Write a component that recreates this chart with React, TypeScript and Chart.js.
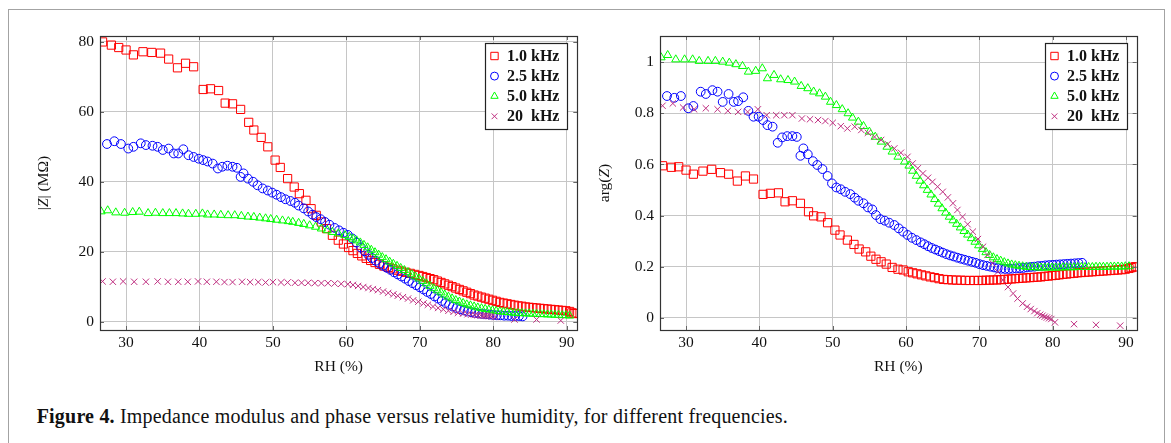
import React, { useEffect, useRef } from "react";
import { Chart, registerables } from "chart.js";

Chart.register(...registerables);

const FONT = '"Liberation Serif", "Times New Roman", Times, serif';

const X_TICKS = [30, 40, 50, 60, 70, 80, 90];
const X_TICK_LABELS = ["30", "40", "50", "60", "70", "80", "90"];
const Z_TICKS = [0, 20, 40, 60, 80];
const Z_TICK_LABELS = ["0", "20", "40", "60", "80"];
const ARG_TICKS = [0, 0.2, 0.4, 0.6, 0.8, 1];
const ARG_TICK_LABELS = ["0", "0.2", "0.4", "0.6", "0.8", "1"];
const SERIES_LABELS = ["1.0 kHz", "2.5 kHz", "5.0 kHz", "20  kHz"];

// ---- 1.0 kHz ----
const RH_1K = [26.8, 28.0, 29.0, 30.0, 31.0, 32.3, 33.5, 34.7, 35.8, 37.0, 38.1, 39.2, 40.5, 41.5, 42.6, 43.5, 44.5, 45.6, 46.7, 47.4, 48.4, 49.3, 50.3, 51.0, 52.0, 52.9, 53.6, 54.5, 55.2, 55.9, 56.6, 57.3, 58.1, 58.9, 59.6, 60.3,
  60.9, 61.5, 62.1, 62.7, 63.3, 63.9, 64.5, 65.1, 65.7, 66.3, 66.9, 67.5, 68.1, 68.7, 69.3, 69.9,
  70.4, 70.9, 71.4, 71.9, 72.4, 72.9, 73.4, 73.9, 74.4, 74.9, 75.4, 75.9, 76.4, 76.9, 77.4, 77.9, 78.4, 78.9, 79.4, 79.9,
  80.4, 80.9, 81.4, 81.9, 82.4, 82.9, 83.4, 83.9, 84.4, 84.9, 85.4, 85.9, 86.4, 86.9, 87.4, 87.9, 88.4, 88.9, 89.4, 89.9,
  90.4, 90.7, 91.0, 91.3];
const ZMOD_1K = [80.0, 79.1, 78.4, 77.7, 76.3, 77.2, 77.0, 76.8, 75.1, 72.6, 73.9, 72.9, 66.4, 66.6, 66.1, 62.5, 62.3, 60.7, 57.0, 54.8, 52.7, 50.0, 46.2, 44.1, 40.9, 38.5, 36.6, 34.7, 32.3, 30.4, 28.5, 26.6, 24.7, 23.3, 22.2, 21.2,
  20.3, 19.5, 18.8, 18.1, 17.5, 16.9, 16.4, 15.9, 15.5, 15.1, 14.7, 14.4, 14.1, 13.8, 13.5, 13.2,
  12.9, 12.6, 12.3, 12.0, 11.6, 11.2, 10.8, 10.4, 10.0, 9.6, 9.2, 8.8, 8.4, 8.0, 7.6, 7.3, 7.0, 6.7, 6.4, 6.1,
  5.8, 5.5, 5.3, 5.1, 4.9, 4.7, 4.5, 4.4, 4.2, 4.1, 4.0, 3.9, 3.8, 3.7, 3.6, 3.5, 3.4, 3.3, 3.2, 3.1,
  2.9, 2.5, 2.3, 2.4];
const ARG_1K = [0.595, 0.589, 0.591, 0.578, 0.562, 0.574, 0.581, 0.568, 0.562, 0.535, 0.555, 0.543, 0.483, 0.487, 0.489, 0.454, 0.458, 0.448, 0.415, 0.399, 0.395, 0.372, 0.343, 0.324, 0.304, 0.287, 0.269, 0.258, 0.241, 0.229, 0.219, 0.210, 0.197, 0.190, 0.187, 0.180,
  0.176, 0.172, 0.168, 0.164, 0.160, 0.157, 0.153, 0.150, 0.149, 0.148, 0.147, 0.147, 0.146, 0.146, 0.146, 0.146,
  0.146, 0.147, 0.147, 0.148, 0.148, 0.149, 0.150, 0.151, 0.152, 0.153, 0.154, 0.155, 0.156, 0.157, 0.158, 0.159, 0.160, 0.162, 0.163, 0.165,
  0.166, 0.168, 0.170, 0.171, 0.173, 0.174, 0.176, 0.177, 0.178, 0.179, 0.180, 0.181, 0.182, 0.183, 0.184, 0.185, 0.186, 0.187, 0.188, 0.190,
  0.193, 0.196, 0.198, 0.200];

// ---- 2.5 kHz ----
const RH_2K5 = [27.4, 28.4, 29.3, 30.3, 31.0, 32.0, 32.7, 33.6, 34.3, 35.0, 35.8, 36.5, 37.1, 37.8, 38.5, 39.2, 39.9, 40.5, 41.1, 41.8,
  42.5, 43.1, 43.8, 44.5, 45.1, 45.6, 46.0, 46.6, 47.3, 47.9, 48.6, 49.3, 49.9, 50.5, 51.1, 51.7, 52.4, 53.0, 53.5, 54.2,
  54.8, 55.4, 55.9, 56.5, 57.1, 57.7, 58.4, 59.0, 59.6, 60.2,
  60.8, 61.4, 62.0, 62.5, 63.0, 63.5, 64.0, 64.5, 65.0, 65.5, 66.0, 66.5, 67.0, 67.5, 68.0, 68.5, 69.0, 69.5, 70.0, 70.5, 71.0, 71.5,
  72.0, 72.5, 73.0, 73.5, 74.0, 74.5, 75.0, 75.5, 76.0, 76.5, 77.0, 77.5, 78.0, 78.5, 79.0, 79.5, 80.0, 80.5, 81.0, 81.5,
  82.0, 82.5, 83.0, 83.5, 84.0];
const ZMOD_2K5 = [50.8, 51.6, 50.8, 49.5, 50.0, 51.0, 50.5, 50.3, 50.0, 49.1, 49.5, 48.1, 48.1, 49.3, 47.6, 47.1, 46.6, 46.2, 45.8, 45.2,
  43.8, 44.3, 44.6, 44.3, 44.0, 41.4, 42.4, 40.9, 40.0, 39.0, 38.1, 37.5, 36.9, 36.3, 35.6, 35.0, 34.5, 34.0, 33.2, 32.4,
  31.5, 30.6, 29.9, 29.3, 28.5, 27.7, 26.8, 26.1, 25.4, 24.8,
  23.8, 22.6, 21.2, 20.1, 19.1, 18.2, 17.4, 16.6, 16.0, 15.4, 14.8, 14.1, 13.5, 12.9, 12.3, 11.6, 11.0, 10.4, 9.8, 9.2, 8.5, 7.9,
  7.2, 6.6, 5.9, 5.3, 4.8, 4.3, 3.9, 3.5, 3.2, 2.9, 2.7, 2.5, 2.3, 2.2, 2.1, 2.0, 1.9, 1.8, 1.8, 1.7,
  1.7, 1.6, 1.6, 1.6, 1.5];
const ARG_2K5 = [0.868, 0.861, 0.868, 0.820, 0.829, 0.885, 0.876, 0.891, 0.885, 0.845, 0.876, 0.845, 0.848, 0.863, 0.810, 0.787, 0.787, 0.774, 0.754, 0.748,
  0.685, 0.706, 0.711, 0.711, 0.708, 0.634, 0.663, 0.640, 0.613, 0.598, 0.582, 0.555, 0.526, 0.510, 0.503, 0.493, 0.484, 0.470, 0.458, 0.448,
  0.432, 0.424, 0.402, 0.386, 0.380, 0.372, 0.363, 0.350, 0.337, 0.324,
  0.313, 0.304, 0.295, 0.288, 0.280, 0.273, 0.267, 0.261, 0.255, 0.249, 0.244, 0.240, 0.235, 0.231, 0.227, 0.223, 0.219, 0.215, 0.210, 0.206, 0.203, 0.200,
  0.197, 0.194, 0.192, 0.191, 0.191, 0.192, 0.193, 0.194, 0.195, 0.197, 0.199, 0.200, 0.202, 0.203, 0.205, 0.206, 0.207, 0.208, 0.209, 0.210,
  0.211, 0.212, 0.213, 0.214, 0.215];

// ---- 5.0 kHz ----
const RH_5K = [26.6, 27.5, 28.6, 29.8, 30.9, 31.8, 33.0, 34.0, 35.0, 35.9, 36.8, 37.7, 38.5, 39.5, 40.4, 41.1, 42.0, 42.9, 43.9, 44.8,
  45.7, 46.6, 47.4, 48.2, 49.0, 49.7, 50.5, 51.3, 52.1, 52.7, 53.5, 54.2, 55.0, 55.8, 56.6, 57.4, 58.1, 58.9, 59.8,
  60.4, 60.9, 61.4, 61.9, 62.4, 62.9, 63.4, 63.9, 64.4, 64.9, 65.4, 65.9, 66.4, 66.9, 67.4, 67.9, 68.4, 68.9, 69.4, 69.9,
  70.4, 70.9, 71.4, 71.9, 72.4, 72.9, 73.4, 73.9, 74.4, 74.9, 75.4, 75.9, 76.4, 76.9, 77.4, 77.9, 78.4, 78.9, 79.4, 79.9,
  80.4, 80.9, 81.4, 81.9, 82.4, 82.9, 83.4, 83.9, 84.4, 84.9, 85.4, 85.9, 86.4, 86.9, 87.4, 87.9, 88.4, 88.9, 89.4, 89.9, 90.4];
const ZMOD_5K = [31.5, 31.8, 31.2, 31.1, 31.3, 31.4, 31.0, 31.1, 31.0, 31.0, 31.0, 30.9, 30.8, 30.8, 30.9, 30.6, 30.6, 30.5, 30.4, 30.4,
  30.2, 30.0, 29.9, 29.7, 29.5, 29.3, 29.1, 28.9, 28.7, 28.5, 28.2, 27.9, 27.5, 27.1, 26.6, 26.1, 25.6, 25.2, 24.7,
  24.2, 23.7, 23.2, 22.6, 21.9, 21.2, 20.5, 19.8, 19.1, 18.4, 17.8, 17.1, 16.5, 15.9, 15.3, 14.7, 14.1, 13.5, 12.9, 12.3,
  11.6, 10.9, 10.2, 9.5, 8.9, 8.3, 7.7, 7.1, 6.6, 6.1, 5.7, 5.3, 4.9, 4.6, 4.3, 4.0, 3.8, 3.6, 3.4, 3.2,
  3.0, 2.9, 2.8, 2.7, 2.6, 2.5, 2.4, 2.4, 2.3, 2.3, 2.2, 2.2, 2.1, 2.1, 2.0, 2.0, 1.9, 1.9, 1.8, 1.8, 1.7];
const ARG_5K = [1.019, 1.028, 1.011, 1.011, 1.011, 1.005, 1.005, 1.005, 1.002, 0.998, 0.992, 0.985, 0.963, 0.966, 0.976, 0.937, 0.950, 0.933, 0.930, 0.924,
  0.907, 0.898, 0.885, 0.878, 0.865, 0.845, 0.832, 0.816, 0.800, 0.783, 0.767, 0.750, 0.728, 0.708, 0.689, 0.669, 0.650, 0.630, 0.611,
  0.595, 0.575, 0.555, 0.536, 0.518, 0.500, 0.482, 0.464, 0.446, 0.428, 0.411, 0.395, 0.381, 0.367, 0.353, 0.339, 0.325, 0.311, 0.297, 0.283,
  0.269, 0.256, 0.245, 0.236, 0.229, 0.223, 0.217, 0.212, 0.208, 0.205, 0.203, 0.201, 0.199, 0.198, 0.197, 0.197, 0.196, 0.196, 0.196, 0.196,
  0.196, 0.196, 0.197, 0.197, 0.197, 0.197, 0.198, 0.198, 0.198, 0.198, 0.198, 0.199, 0.199, 0.199, 0.199, 0.200, 0.200, 0.200, 0.200, 0.201, 0.201];

// ---- 20 kHz ----
const RH_20K = [26.8, 28.2, 29.6, 31.1, 32.7, 34.3, 35.7, 37.1, 38.4, 39.8, 41.0, 42.3, 43.4, 44.5, 45.8, 46.9, 48.0, 49.0, 50.0, 51.1,
  52.0, 53.0, 53.9, 54.8, 55.7, 56.6, 57.5, 58.4, 59.3, 60.2,
  60.9, 61.6, 62.3, 63.0, 63.6, 64.3, 65.0, 65.7, 66.4, 67.0, 67.7, 68.4, 69.1, 69.8, 70.5, 71.1, 71.8, 72.5, 73.2, 73.9,
  74.6, 75.2, 75.9, 76.5, 77.0, 77.5, 77.9, 78.3, 78.6, 78.9, 79.2, 79.5, 79.8, 80.3, 82.9, 85.9, 89.2];
const ZMOD_20K = [11.5, 11.4, 11.5, 11.4, 11.4, 11.5, 11.4, 11.4, 11.4, 11.5, 11.4, 11.4, 11.3, 11.3, 11.4, 11.3, 11.3, 11.2, 11.3, 11.2,
  11.2, 11.1, 11.1, 11.1, 11.0, 11.0, 11.0, 10.9, 10.8, 10.7,
  10.5, 10.2, 9.9, 9.6, 9.3, 9.0, 8.6, 8.2, 7.8, 7.4, 7.0, 6.6, 6.1, 5.7, 5.2, 4.8, 4.3, 3.9, 3.5, 3.1,
  2.8, 2.5, 2.3, 2.1, 2.0, 1.9, 1.8, 1.8, 1.7, 1.7, 1.6, 1.6, 1.5, 1.3, 0.6, 0.6, 0.3];
const ARG_20K = [0.830, 0.839, 0.823, 0.816, 0.820, 0.816, 0.810, 0.806, 0.806, 0.816, 0.793, 0.793, 0.793, 0.793, 0.780, 0.777, 0.774, 0.770, 0.763, 0.750,
  0.741, 0.748, 0.735, 0.724, 0.708, 0.696, 0.680, 0.663, 0.646, 0.630,
  0.604, 0.585, 0.565, 0.548, 0.532, 0.513, 0.493, 0.471, 0.448, 0.422, 0.395, 0.366, 0.337, 0.308, 0.278, 0.246, 0.213, 0.180, 0.148, 0.120,
  0.095, 0.075, 0.056, 0.043, 0.034, 0.026, 0.018, 0.012, 0.008, 0.004, 0.001, -0.002, -0.005, -0.018, -0.025, -0.028, -0.031];

const RH_SERIES = [RH_1K, RH_2K5, RH_5K, RH_20K];
const ZMOD_SERIES = [ZMOD_1K, ZMOD_2K5, ZMOD_5K, ZMOD_20K];
const ARG_SERIES = [ARG_1K, ARG_2K5, ARG_5K, ARG_20K];

const STYLES = [
  { color: "#ff0000", shape: "rect", radius: 5.8, order: 3 },
  { color: "#0000ff", shape: "circle", radius: 4.4, order: 2 },
  { color: "#00ff00", shape: "triangle", radius: 4.7, order: 1 },
  { color: "#bf2f80", shape: "crossRot", radius: 4.5, order: 0 },
];

type Part = { text: string; italic?: boolean };

function drawMarker(ctx: CanvasRenderingContext2D, shape: string, x: number, y: number, r: number, color: string) {
  ctx.save();
  ctx.strokeStyle = color;
  ctx.lineWidth = 1;
  ctx.beginPath();
  if (shape === "rect") {
    const s = Math.SQRT1_2 * r;
    ctx.rect(x - s, y - s, 2 * s, 2 * s);
  } else if (shape === "circle") {
    ctx.arc(x, y, r, 0, Math.PI * 2);
  } else if (shape === "triangle") {
    let a = 0;
    ctx.moveTo(x + Math.sin(a) * r, y - Math.cos(a) * r);
    a += (2 * Math.PI) / 3;
    ctx.lineTo(x + Math.sin(a) * r, y - Math.cos(a) * r);
    a += (2 * Math.PI) / 3;
    ctx.lineTo(x + Math.sin(a) * r, y - Math.cos(a) * r);
    ctx.closePath();
  } else {
    const d = Math.SQRT1_2 * r;
    ctx.moveTo(x - d, y - d);
    ctx.lineTo(x + d, y + d);
    ctx.moveTo(x - d, y + d);
    ctx.lineTo(x + d, y - d);
  }
  ctx.stroke();
  ctx.restore();
}

function drawParts(ctx: CanvasRenderingContext2D, parts: Part[], cx: number, cy: number, rot: number, size: number) {
  ctx.save();
  ctx.translate(cx, cy);
  ctx.rotate(rot);
  ctx.fillStyle = "#111";
  ctx.textBaseline = "middle";
  ctx.textAlign = "left";
  const fonts = parts.map((p) => `${p.italic ? "italic " : ""}${size}px ${FONT}`);
  const widths = parts.map((p, i) => {
    ctx.font = fonts[i];
    return ctx.measureText(p.text).width;
  });
  let x = -widths.reduce((a, b) => a + b, 0) / 2;
  parts.forEach((p, i) => {
    ctx.font = fonts[i];
    ctx.fillText(p.text, x, 0);
    x += widths[i];
  });
  ctx.restore();
}

function buildConfig(opt: {
  ySeries: number[][];
  yMin: number;
  yMax: number;
  yTicks: number[];
  yTickLabels: string[];
  yTitle: Part[];
  yTitleX: number;
  yAxisWidth: number;
  padRight: number;
}) {
  const decor = {
    id: "decor",
    afterDatasetsDraw(chart: any) {
      const { ctx, chartArea: a, scales } = chart;
      ctx.save();
      // inner tick marks
      ctx.strokeStyle = "#666";
      ctx.lineWidth = 1;
      ctx.beginPath();
      for (const v of X_TICKS) {
        const x = Math.round(scales.x.getPixelForValue(v)) + 0.5;
        ctx.moveTo(x, a.bottom);
        ctx.lineTo(x, a.bottom - 4);
        ctx.moveTo(x, a.top);
        ctx.lineTo(x, a.top + 4);
      }
      for (const v of opt.yTicks) {
        const y = Math.round(scales.y.getPixelForValue(v)) + 0.5;
        ctx.moveTo(a.left, y);
        ctx.lineTo(a.left + 4, y);
        ctx.moveTo(a.right, y);
        ctx.lineTo(a.right - 4, y);
      }
      ctx.stroke();
      // frame
      ctx.strokeStyle = "#333";
      ctx.lineWidth = 1.2;
      ctx.strokeRect(Math.round(a.left) + 0.5, Math.round(a.top) + 0.5, Math.round(a.width), Math.round(a.height));
      // legend
      const bw = 82, bh = 86;
      const bx = Math.round(a.right - 10 - bw) + 0.5;
      const by = Math.round(a.top + 7) + 0.5;
      ctx.fillStyle = "#fff";
      ctx.fillRect(bx, by, bw, bh);
      ctx.strokeStyle = "#222";
      ctx.lineWidth = 1.2;
      ctx.strokeRect(bx, by, bw, bh);
      ctx.font = `bold 16px ${FONT}`;
      ctx.fillStyle = "#111";
      ctx.textBaseline = "middle";
      ctx.textAlign = "left";
      SERIES_LABELS.forEach((lab, i) => {
        const yc = by + 12.5 + i * 20.1;
        drawMarker(ctx, STYLES[i].shape, bx + 9, yc, STYLES[i].radius * 0.9, STYLES[i].color);
        ctx.fillText(lab, bx + 21.5, yc + 0.5);
      });
      ctx.restore();
    },
    afterDraw(chart: any) {
      const { ctx, chartArea: a } = chart;
      drawParts(ctx, [{ text: "RH (%)" }], (a.left + a.right) / 2, 366.5, 0, 15.5);
      drawParts(ctx, opt.yTitle, opt.yTitleX, (a.top + a.bottom) / 2, -Math.PI / 2, 15.5);
    },
  };

  const datasets = SERIES_LABELS.map((label, i) => ({
    label,
    data: RH_SERIES[i].map((x, j) => ({ x, y: opt.ySeries[i][j] })),
    pointStyle: STYLES[i].shape,
    pointRadius: STYLES[i].radius,
    pointBorderWidth: 1,
    pointBorderColor: STYLES[i].color,
    pointBackgroundColor: "rgba(0,0,0,0)",
    borderColor: STYLES[i].color,
    backgroundColor: "rgba(0,0,0,0)",
    showLine: false,
    order: STYLES[i].order,
  }));

  return {
    type: "scatter" as const,
    data: { datasets },
    options: {
      animation: false as const,
      responsive: false,
      events: [],
      layout: { padding: { left: 0, top: 36, right: opt.padRight, bottom: 0 } },
      plugins: { legend: { display: false }, tooltip: { enabled: false } },
      scales: {
        x: {
          type: "linear" as const,
          min: 26.45,
          max: 91.45,
          afterBuildTicks: (s: any) => {
            s.ticks = X_TICKS.map((v) => ({ value: v }));
          },
          afterFit: (s: any) => {
            s.height = 60;
          },
          ticks: {
            callback: (_v: any, i: number) => X_TICK_LABELS[i],
            font: { family: FONT, size: 15.5 },
            color: "#111",
            padding: 4,
            maxRotation: 0,
            autoSkip: false,
          },
          grid: { color: "#c6c6c6", lineWidth: 1, drawTicks: false },
          border: { display: false },
        },
        y: {
          type: "linear" as const,
          min: opt.yMin,
          max: opt.yMax,
          afterBuildTicks: (s: any) => {
            s.ticks = opt.yTicks.map((v) => ({ value: v }));
          },
          afterFit: (s: any) => {
            s.width = opt.yAxisWidth;
          },
          ticks: {
            callback: (_v: any, i: number) => opt.yTickLabels[i],
            font: { family: FONT, size: 15.5 },
            color: "#111",
            padding: 6,
            autoSkip: false,
          },
          grid: { color: "#c6c6c6", lineWidth: 1, drawTicks: false },
          border: { display: false },
        },
      },
    },
    plugins: [decor],
  };
}

export default function App() {
  const leftRef = useRef<HTMLCanvasElement>(null);
  const rightRef = useRef<HTMLCanvasElement>(null);

  useEffect(() => {
    const c1 = new Chart(
      leftRef.current!,
      buildConfig({
        ySeries: ZMOD_SERIES,
        yMin: -2.4,
        yMax: 81.7,
        yTicks: Z_TICKS,
        yTickLabels: Z_TICK_LABELS,
        yTitle: [{ text: "|" }, { text: "Z", italic: true }, { text: "| (MΩ)" }],
        yTitleX: 44,
        yAxisWidth: 100,
        padRight: 12.7,
      }) as any
    );
    const c2 = new Chart(
      rightRef.current!,
      buildConfig({
        ySeries: ARG_SERIES,
        yMin: -0.048,
        yMax: 1.103,
        yTicks: ARG_TICKS,
        yTickLabels: ARG_TICK_LABELS,
        yTitle: [{ text: "arg(" }, { text: "Z", italic: true }, { text: ")" }],
        yTitleX: 14.5,
        yAxisWidth: 70,
        padRight: 34.3,
      }) as any
    );
    return () => {
      c1.destroy();
      c2.destroy();
    };
  }, []);

  return (
    <div style={{ position: "absolute", left: 0, top: 0, width: 1171, height: 443, overflow: "hidden", background: "#fff" }}>
      <div
        style={{
          position: "absolute",
          left: 8,
          top: 9,
          width: 1155,
          height: 480,
          border: "1.5px solid #a3a3a3",
        }}
      />
      <canvas ref={leftRef} width={590} height={390} style={{ position: "absolute", left: 0, top: 0, width: 590, height: 390 }} />
      <canvas ref={rightRef} width={581} height={390} style={{ position: "absolute", left: 590, top: 0, width: 581, height: 390 }} />
      <div
        style={{
          position: "absolute",
          left: 36.7,
          top: 406,
          fontFamily: FONT,
          fontSize: 20,
          lineHeight: "20px",
          letterSpacing: "0.2px",
          whiteSpace: "nowrap",
          color: "#111",
        }}
      >
        <b>Figure 4.</b> Impedance modulus and phase versus relative humidity, for different frequencies.
      </div>
    </div>
  );
}
